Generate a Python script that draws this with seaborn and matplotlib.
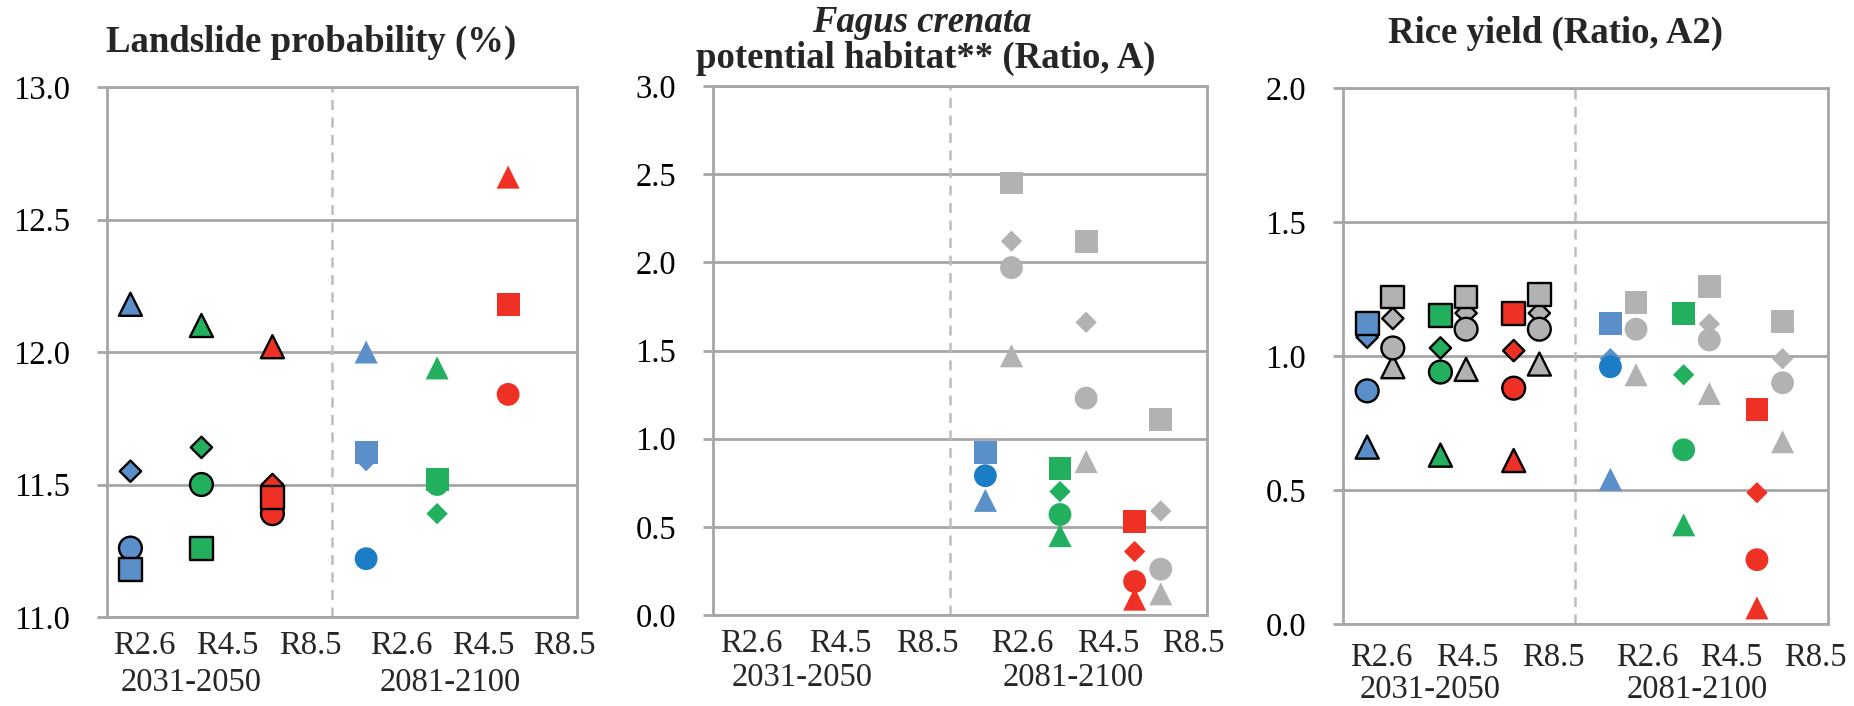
import numpy as np
import pandas as pd
import matplotlib
matplotlib.use("Agg")
import matplotlib.pyplot as plt
import seaborn as sns
from matplotlib.ticker import FormatStrFormatter
from matplotlib.transforms import blended_transform_factory

nan = np.nan

scenarios = ["R2.6", "R4.5", "R8.5"]
periods = ["2031-2050", "2081-2100"]
models = ["triangle", "diamond", "circle", "square"]

# each list: [2031-2050 R2.6, R4.5, R8.5, 2081-2100 R2.6, R4.5, R8.5]
landslide_square = [11.18, 11.26, 11.45, 11.62, 11.52, 12.18]
landslide_diamond = [11.55, 11.64, 11.50, 11.59, 11.39, nan]
landslide_circle = [11.26, 11.50, 11.39, 11.22, 11.50, 11.84]
landslide_triangle = [12.18, 12.10, 12.02, 12.00, 11.94, 12.66]

fagus_square = [nan, nan, nan, 0.92, 0.83, 0.53]
fagus_diamond = [nan, nan, nan, nan, 0.70, 0.36]
fagus_circle = [nan, nan, nan, 0.79, 0.57, 0.19]
fagus_triangle = [nan, nan, nan, 0.65, 0.45, 0.09]
fagus_grey_square = [nan, nan, nan, 2.45, 2.12, 1.11]
fagus_grey_diamond = [nan, nan, nan, 2.12, 1.66, 0.59]
fagus_grey_circle = [nan, nan, nan, 1.97, 1.23, 0.26]
fagus_grey_triangle = [nan, nan, nan, 1.47, 0.87, 0.12]

rice_square = [1.12, 1.15, 1.16, 1.12, 1.16, 0.80]
rice_diamond = [1.07, 1.03, 1.02, 0.99, 0.93, 0.49]
rice_circle = [0.87, 0.94, 0.88, 0.96, 0.65, 0.24]
rice_triangle = [0.66, 0.63, 0.61, 0.54, 0.37, 0.06]
rice_grey_square = [1.22, 1.22, 1.23, 1.20, 1.26, 1.13]
rice_grey_diamond = [1.14, 1.16, 1.16, nan, 1.12, 0.99]
rice_grey_circle = [1.03, 1.10, 1.10, 1.10, 1.06, 0.90]
rice_grey_triangle = [0.96, 0.95, 0.97, 0.93, 0.86, 0.68]

y_limits = [(11.0, 13.0), (0.0, 3.0), (0.0, 2.0)]

BLUE = "#5B8FCA"
BLUE_DARK = "#1C7DC7"
GREEN = "#22B05F"
RED = "#EE3124"
GREY = "#B2B2B2"
AXIS_GREY = "#A6A6A6"

W, H = 1854, 706


def build_frame(colour, grey):
    rows = []
    for m in models:
        for kind, src in (("colour", colour), ("grey", grey)):
            if src is None:
                continue
            for k, v in enumerate(src[m]):
                p, i = divmod(k, 3)
                x = 0.33 + i + 3.32 * p + (0.35 if kind == "grey" else 0.0)
                key = "grey" if kind == "grey" else scenarios[i]
                if key == "R2.6" and m == "circle" and p == 1:
                    key = "R2.6 dark"
                rows.append(dict(model=m, period=periods[p], x=x, value=v, key=key))
    return pd.DataFrame(rows).dropna()


frames = [
    build_frame({"square": landslide_square, "diamond": landslide_diamond,
                 "circle": landslide_circle, "triangle": landslide_triangle}, None),
    build_frame({"square": fagus_square, "diamond": fagus_diamond,
                 "circle": fagus_circle, "triangle": fagus_triangle},
                {"square": fagus_grey_square, "diamond": fagus_grey_diamond,
                 "circle": fagus_grey_circle, "triangle": fagus_grey_triangle}),
    build_frame({"square": rice_square, "diamond": rice_diamond,
                 "circle": rice_circle, "triangle": rice_triangle},
                {"square": rice_grey_square, "diamond": rice_grey_diamond,
                 "circle": rice_grey_circle, "triangle": rice_grey_triangle}),
]

palette = {"R2.6": BLUE, "R2.6 dark": BLUE_DARK, "R4.5": GREEN, "R8.5": RED, "grey": GREY}
marker_of = {"square": "s", "diamond": "D", "circle": "o", "triangle": "^"}
size_of = {"square": 270, "diamond": 118, "circle": 270, "triangle": 275}

sns.set_style("white")
plt.rcParams["font.family"] = ["Liberation Serif", "DejaVu Serif"]

fig = plt.figure(figsize=(W / 100, H / 100), dpi=100)


def px(x0, y0, x1, y1):
    return [x0 / W, 1 - y1 / H, (x1 - x0) / W, (y1 - y0) / H]


boxes = [px(107, 87, 577, 617), px(713, 86, 1207, 615), px(1343, 88, 1828, 624)]
label_offsets = [(-21, -47), (-21, -45), (-24, -47)]
label_x = [0.52, 1.70, 2.87, 4.15, 5.30, 6.44]
period_x = [1.19, 4.83]

for box, df, ylim, offs in zip(boxes, frames, y_limits, label_offsets):
    ax = fig.add_axes(box)
    for m in models:
        for p, per in enumerate(periods):
            sub = df[(df.model == m) & (df.period == per)]
            if sub.empty:
                continue
            sns.scatterplot(data=sub, x="x", y="value", hue="key", palette=palette,
                            marker=marker_of[m], s=size_of[m], legend=False, ax=ax,
                            edgecolor="black" if p == 0 else "none",
                            linewidth=1.7 if p == 0 else 0, zorder=3)
    ax.set_xlim(0, 6.62)
    ax.set_ylim(*ylim)
    ax.set_yticks(np.arange(ylim[0], ylim[1] + 0.01, 0.5))
    ax.yaxis.set_major_formatter(FormatStrFormatter("%.1f"))
    ax.set_xticks([])
    ax.set_xlabel("")
    ax.set_ylabel("")
    ax.grid(axis="y", color=AXIS_GREY, lw=2)
    ax.set_axisbelow(True)
    ax.axvline(3.17, color="#BDBDBD", lw=1.8, ls=(0, (4, 3)), zorder=1)
    for sp in ax.spines.values():
        sp.set_color(AXIS_GREY)
        sp.set_linewidth(2)
    ax.tick_params(axis="y", left=True, length=7.5, width=2, color=AXIS_GREY,
                   pad=19, labelsize=23.5, labelcolor="black")
    tr = blended_transform_factory(ax.transData, ax.transAxes)
    for lx, lab in zip(label_x, scenarios * 2):
        ax.annotate(lab, (lx, 0), xycoords=tr, xytext=(0, offs[0]), textcoords="offset points",
                    ha="center", va="center", fontsize=23.5, annotation_clip=False)
    for lx, per in zip(period_x, periods):
        ax.annotate(per, (lx, 0), xycoords=tr, xytext=(0, offs[1]), textcoords="offset points",
                    ha="center", va="center", fontsize=23.5, annotation_clip=False)

fig.text(311 / W, 1 - 42 / H, "Landslide probability (%)", ha="center", va="center",
         fontsize=26.5, fontweight="bold")
fig.text(922 / W, 1 - 22 / H, "Fagus crenata", ha="center", va="center",
         fontsize=26.5, fontweight="bold", fontstyle="italic")
fig.text(926 / W, 1 - 58 / H, "potential habitat** (Ratio, A)", ha="center", va="center",
         fontsize=26.5, fontweight="bold")
fig.text(1555 / W, 1 - 33 / H, "Rice yield (Ratio, A2)", ha="center", va="center",
         fontsize=26.5, fontweight="bold")

fig.savefig("out.png", dpi=100)
